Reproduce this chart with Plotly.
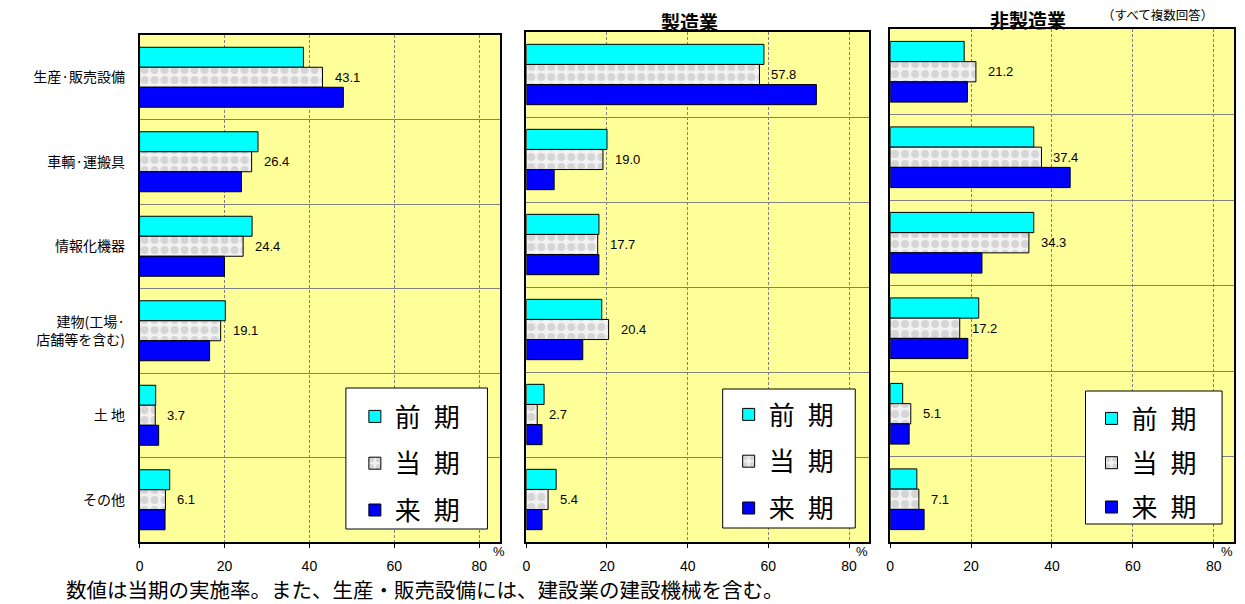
import plotly.graph_objects as go

categories = ["生産·販売設備", "車輌·運搬具", "情報化機器", "建物(工場·<br>店舗等を含む)", "土 地", "その他"]
series_names = ["前\u2002期", "当\u2002期", "来\u2002期"]

# 全体
all_prev = [38.6, 27.9, 26.5, 20.2, 3.8, 7.1]
all_curr = [43.1, 26.4, 24.4, 19.1, 3.7, 6.1]
all_next = [48.0, 24.0, 20.0, 16.5, 4.5, 6.0]
# 製造業
mfg_prev = [58.9, 20.0, 18.0, 18.7, 4.4, 7.4]
mfg_curr = [57.8, 19.0, 17.7, 20.4, 2.7, 5.4]
mfg_next = [71.9, 6.9, 18.0, 14.0, 3.9, 3.9]
# 非製造業
non_prev = [18.3, 35.5, 35.5, 21.9, 3.1, 6.6]
non_curr = [21.2, 37.4, 34.3, 17.2, 5.1, 7.1]
non_next = [19.1, 44.5, 22.7, 19.2, 4.7, 8.4]

x_ticks = [0, 20, 40, 60, 80]

panels = [
    (all_prev, all_curr, all_next, "x", "y", "legend"),
    (mfg_prev, mfg_curr, mfg_next, "x2", "y2", "legend2"),
    (non_prev, non_curr, non_next, "x3", "y3", "legend3"),
]

W, H = 1245, 604
px_x = lambda p: p / W
px_y = lambda p: (H - p) / H

fig = go.Figure()
JP = "Noto Sans CJK JP"
AR = "Liberation Sans, Arial"

for pi, (prev, curr, nxt, xa, ya, lg) in enumerate(panels):
    styles = [
        dict(color="#00FFFF", line=dict(color="#000000", width=1)),
        dict(color="#FFFFFF", line=dict(color="#000000", width=1),
             pattern=dict(shape=".", bgcolor="#F2F2F2", fgcolor="#B8B8B8", size=10, solidity=0.5)),
        dict(color="#0000FF", line=dict(color="#000000", width=1)),
    ]
    for si, vals in enumerate([prev, curr, nxt]):
        fig.add_trace(go.Bar(
            x=vals, y=categories, orientation="h", name=series_names[si],
            marker=styles[si], xaxis=xa, yaxis=ya, legend=lg,
            legendgroup=f"p{pi}s{si}", hoverinfo="x+y",
        ))
    for c, v in zip(categories, curr):
        fig.add_annotation(x=v, y=c, xref=xa, yref=ya, text=f"{v:.1f}",
                           showarrow=False, xanchor="left", yanchor="middle", xshift=10,
                           font=dict(family=AR, size=13, color="#000"))

xdomains = [(136, 498), (524, 868), (889, 1234)]
tops = [35, 32, 29]
bottom = 542

axis_common = dict(range=[0, 85], tickvals=x_ticks, showgrid=True, griddash="3px,2px",
                   gridcolor="#808080", gridwidth=1, zeroline=False, showline=True,
                   linecolor="#000000", linewidth=1.5, mirror=True, ticks="outside",
                   ticklen=4, tickcolor="#000", ticklabelstandoff=6,
                   tickfont=dict(family=AR, size=14, color="#000"))

layout = dict(
    width=W, height=H, margin=dict(l=0, r=0, t=0, b=0),
    paper_bgcolor="#FFFFFF", plot_bgcolor="#FFFF99",
    barmode="group", bargap=0.29, bargroupgap=0,
    showlegend=True,
)
for i, ((x0, x1), top) in enumerate(zip(xdomains, tops)):
    sfx = "" if i == 0 else str(i + 1)
    layout["xaxis" + sfx] = dict(axis_common, domain=[px_x(x0), px_x(x1)],
                                 anchor="y" + sfx)
    layout["yaxis" + sfx] = dict(domain=[px_y(bottom), px_y(top)], anchor="x" + sfx,
                                 type="category", autorange="reversed",
                                 tickson="boundaries", showgrid=True, gridcolor="#808080",
                                 gridwidth=1, showline=True, mirror=True,
                                 linecolor="#000000", linewidth=1.5,
                                 showticklabels=(i == 0), ticks="",
                                 ticklabelstandoff=10,
                                 tickfont=dict(family=JP, size=14, color="#000"))

# legend boxes (drawn as shapes) and legend placement
boxes = [(343, 388, 485, 529), (721, 389, 854, 528), (1085, 391, 1222, 524)]
legend_pos = [(352, 393, 10), (727, 391, 10), (1091, 395, 7.5)]
shapes = []
for (bx0, by0, bx1, by1) in boxes:
    shapes.append(dict(type="rect", xref="paper", yref="paper",
                       x0=px_x(bx0), x1=px_x(bx1), y0=px_y(by1), y1=px_y(by0),
                       fillcolor="#FFFFFF", line=dict(color="#000000", width=1), layer="above"))
layout["shapes"] = shapes
for i, (lx, ly, gap) in enumerate(legend_pos):
    key = "legend" if i == 0 else f"legend{i+1}"
    layout[key] = dict(x=px_x(lx), y=px_y(ly), xanchor="left", yanchor="top",
                       bgcolor="rgba(0,0,0,0)", borderwidth=0,
                       font=dict(family=JP, size=26, color="#000"),
                       tracegroupgap=gap, itemclick=False, itemdoubleclick=False)
fig.update_layout(**layout)

# titles and notes
def note(xp, yp, text, size, family=JP, xanchor="center"):
    fig.add_annotation(x=px_x(xp), y=px_y(yp), xref="paper", yref="paper", text=text,
                       showarrow=False, xanchor=xanchor, yanchor="middle",
                       font=dict(family=family, size=size, color="#000"))

note(688, 21, "<b>製造業</b>", 19)
note(1027, 20, "<b>非製造業</b>", 19)
note(1157, 15, "（すべて複数回答）", 12.5)
for px in [497, 861, 1227]:
    note(px, 551, "%", 13, family=AR)
note(60, 589, "数値は当期の実施率。また、生産・販売設備には、建設業の建設機械を含む。", 20.5, xanchor="left")

fig.write_html("out.html")
